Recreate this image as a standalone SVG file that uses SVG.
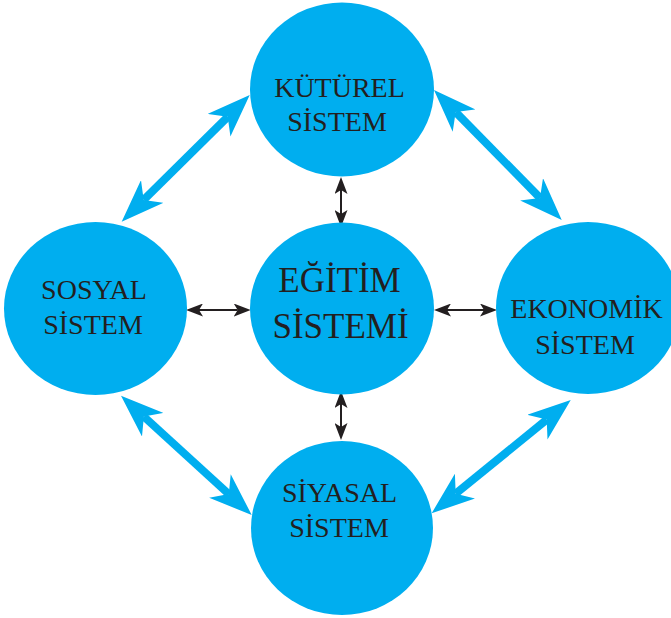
<svg xmlns="http://www.w3.org/2000/svg" width="671" height="618" viewBox="0 0 671 618">
  <style>
    .node { fill: #00aeef; }
    .lbl { font-family: "Liberation Serif", "Times New Roman", serif; font-size: 28px; fill: #231f20; text-anchor: middle; }
    .big { font-size: 35px; }
    .blue { stroke: #00aeef; stroke-width: 8; fill: none; marker-start: url(#bh); marker-end: url(#bh); }
    .black { stroke: #231f20; stroke-width: 2; fill: none; marker-start: url(#kh); marker-end: url(#kh); }
  </style>
  <defs>
    <marker id="bh" markerUnits="userSpaceOnUse" markerWidth="43" markerHeight="32" refX="12" refY="16" orient="auto-start-reverse" viewBox="0 0 43 32">
      <path d="M0,0 L43,16 L0,32 L12,16 Z" fill="#00aeef"/>
    </marker>
    <marker id="kh" markerUnits="userSpaceOnUse" markerWidth="17" markerHeight="13" refX="4" refY="6.5" orient="auto-start-reverse" viewBox="0 0 17 13">
      <path d="M0,0 L17,6.5 L0,13 L4,6.5 Z" fill="#231f20"/>
    </marker>
  </defs>
  <rect width="671" height="618" fill="#ffffff"/>
  <g id="connectors">
    <line class="blue" x1="143.7" y1="199.9" x2="227.7" y2="116.8"/>
    <line class="blue" x1="455.7" y1="112.1" x2="540" y2="197.9"/>
    <line class="blue" x1="143.9" y1="416.6" x2="228.8" y2="494.1"/>
    <line class="blue" x1="546.7" y1="419.6" x2="455.7" y2="493.7"/>
    <line class="black" x1="341" y1="190" x2="341" y2="214"/>
    <line class="black" x1="341" y1="404" x2="341" y2="427"/>
    <line class="black" x1="199" y1="310" x2="237.7" y2="310"/>
    <line class="black" x1="447" y1="310" x2="484" y2="310"/>
  </g>
  <g id="kulturel">
    <ellipse class="node" cx="342" cy="89.5" rx="92" ry="87"/>
    <text class="lbl" x="339.5" y="97">KÜTÜREL</text>
    <text class="lbl" x="337" y="131">SİSTEM</text>
  </g>
  <g id="sosyal">
    <ellipse class="node" cx="95.5" cy="308.5" rx="91.5" ry="86.5"/>
    <text class="lbl" x="94" y="299">SOSYAL</text>
    <text class="lbl" x="93" y="334">SİSTEM</text>
  </g>
  <g id="egitim">
    <ellipse class="node" cx="342" cy="308.5" rx="92" ry="86"/>
    <text class="lbl big" x="339.5" y="292">EĞİTİM</text>
    <text class="lbl big" x="340.5" y="338">SİSTEMİ</text>
  </g>
  <g id="ekonomik">
    <ellipse class="node" cx="588" cy="308" rx="92" ry="86"/>
    <text class="lbl" x="586.5" y="318">EKONOMİK</text>
    <text class="lbl" x="585" y="354">SİSTEM</text>
  </g>
  <g id="siyasal">
    <ellipse class="node" cx="342" cy="528" rx="91" ry="87"/>
    <text class="lbl" x="339.5" y="502">SİYASAL</text>
    <text class="lbl" x="339" y="537">SİSTEM</text>
  </g>
</svg>
